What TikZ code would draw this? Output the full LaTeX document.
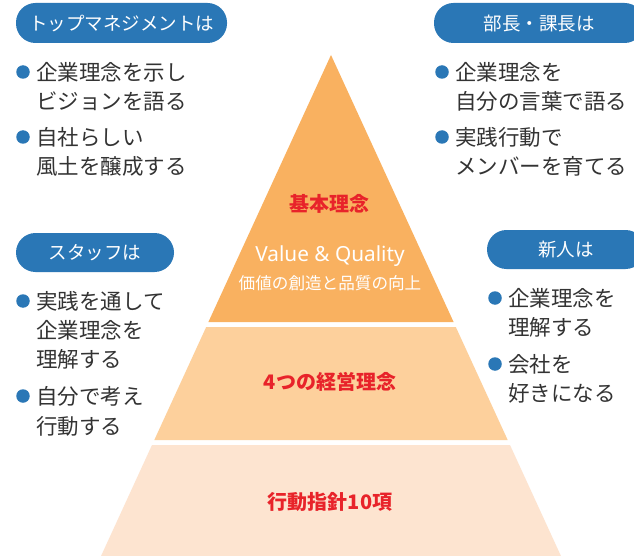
\documentclass[tikz,border=0pt]{standalone}
\usepackage{fontspec}
\setmainfont{Noto Sans CJK JP}
\newfontfamily\latinsans{Noto Sans}
\definecolor{pillblue}{HTML}{2A77B6}
\definecolor{textgray}{HTML}{333333}
\definecolor{tierred}{HTML}{E8232A}
\definecolor{tierA}{HTML}{F9B160}
\definecolor{tierB}{HTML}{FDD09C}
\definecolor{tierC}{HTML}{FDE4D0}
\begin{document}
\begin{tikzpicture}[x=1pt,y=-1pt,
  pill/.style={fill=pillblue, rounded corners=19.5pt, text=white, inner sep=0pt,
    font=\fontsize{18.5}{20}\selectfont, text height=16.3pt, text depth=2.2pt},
  body/.style={anchor=west, inner sep=0pt, text=textgray,
    font=\fontsize{21.5}{26}\selectfont, text height=18.9pt, text depth=2.6pt},
  dot/.style={circle, fill=pillblue, minimum size=13.5pt, inner sep=0pt},
  tier/.style={font=\bfseries\fontsize{20}{24}\selectfont, text=tierred, inner sep=0pt,
    text height=17.6pt, text depth=2.4pt},
  motto/.style={text=white, inner sep=0pt}]
\clip (0,0) rectangle (634,556);
\fill[white] (0,0) rectangle (634,556);
% pyramid
\fill[tierA] (331,55) -- (453.6,322) -- (208.4,322) -- cycle;
\fill[tierB] (206.2,327) -- (455.8,327) -- (507.7,440) -- (154.3,440) -- cycle;
\fill[tierC] (152,445) -- (510,445) -- (562.8,560) -- (99.2,560) -- cycle;
\node[tier] (t1) at (329,204) {基本理念};
\node[motto, font=\latinsans\fontsize{20.8}{24}\selectfont] (v1) at (330,256) {Value \& Quality};
\node[motto, font=\fontsize{16.6}{20}\selectfont, text height=14.6pt, text depth=2pt] (v2) at (330,283) {価値の創造と品質の向上};
\node[tier] (t2) at (330,382) {4つの経営理念};
\node[tier] (t3) at (330,502) {行動指針10項};
% pills
\node[pill, minimum width=211pt, minimum height=40pt] (p1) at (121.5,23) {トップマネジメントは};
\node[pill, minimum width=210pt, minimum height=40pt] (p2) at (539,23) {部長・課長は};
\node[pill, minimum width=158pt, minimum height=39pt] (p3) at (95,252.5) {スタッフは};
\node[pill, minimum width=158pt, minimum height=39pt] (p4) at (566,249.5) {新人は};
% top-left
\node[dot] (d1) at (23,72) {};
\node[body] (a1) at (36,72) {企業理念を示し};
\node[body] (a2) at (36,101) {ビジョンを語る};
\node[dot] (d2) at (23,137) {};
\node[body] (a3) at (36,137) {自社らしい};
\node[body] (a4) at (36,166) {風土を醸成する};
% top-right
\node[dot] (d3) at (442,72) {};
\node[body] (b1) at (455,72) {企業理念を};
\node[body] (b2) at (455,101) {自分の言葉で語る};
\node[dot] (d4) at (442,137) {};
\node[body] (b3) at (455,137) {実践行動で};
\node[body] (b4) at (455,166) {メンバーを育てる};
% mid-left
\node[dot] (d5) at (23,301) {};
\node[body] (c1) at (36,301) {実践を通して};
\node[body] (c2) at (36,330) {企業理念を};
\node[body] (c3) at (36,359) {理解する};
\node[dot] (d6) at (23,396) {};
\node[body] (c4) at (36,396) {自分で考え};
\node[body] (c5) at (36,426) {行動する};
% mid-right
\node[dot] (d7) at (495,298) {};
\node[body] (e1) at (508,298) {企業理念を};
\node[body] (e2) at (508,327) {理解する};
\node[dot] (d8) at (495,364) {};
\node[body] (e3) at (508,364) {会社を};
\node[body] (e4) at (508,393) {好きになる};
\end{tikzpicture}
\end{document}
